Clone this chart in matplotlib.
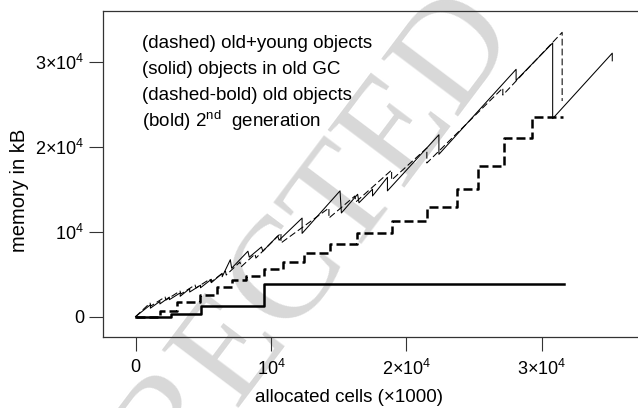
import numpy as np
import matplotlib as mpl
mpl.use('Agg')
import matplotlib.pyplot as plt

mpl.rcParams['font.family'] = ['Liberation Sans', 'DejaVu Sans']
mpl.rcParams['mathtext.fontset'] = 'custom'
mpl.rcParams['mathtext.rm'] = 'Liberation Sans'
mpl.rcParams['mathtext.it'] = 'Liberation Sans:italic'
mpl.rcParams['mathtext.bf'] = 'Liberation Sans:bold'

# 2nd generation (bold, step)
gen2_x = [0, 2600, 4800, 9500, 31600]
gen2_y = [0, 300, 1200, 3800, 3800]

# old objects (dashed-bold, step)
old_x = [0, 1800, 3060, 4760, 6000, 7120, 8150, 9480, 10890, 12440, 14350,
         16350, 18930, 21540, 23700, 25300, 27200, 29240, 31530]
old_y = [0, 670, 1760, 2550, 3530, 4320, 4790, 5580, 6470, 7460, 8520,
         9810, 11290, 12940, 14990, 17760, 20990, 23460, 23460]

# objects in old GC (solid thin)
gc_x = [0, 1100, 1100, 1800, 1800, 2500, 2500, 3300, 3300, 4000, 4000, 4800, 4800,
        5600, 5600, 6400, 6400, 7000, 7100, 8300, 8400, 9300, 9400, 10500, 10600,
        12300, 12300, 15100, 15200, 16400, 16500, 17500, 17500, 18600, 18600,
        22400, 22400, 28100, 28100, 30800, 30800, 35200, 35200]
gc_y = [0, 1400, 1000, 1800, 1500, 2300, 2000, 2800, 2400, 3300, 2900, 3700, 3400,
        4400, 4000, 5100, 4700, 6700, 5700, 7700, 7000, 8200, 7700, 9500, 9000,
        11600, 9800, 14800, 12200, 14400, 13400, 15000, 14200, 16400, 14800,
        21400, 19100, 29100, 27800, 32200, 23300, 31000, 30100]

# old+young objects (dashed thin)
all_x = [0, 1070, 1140, 2180, 2250, 3280, 3360, 4390, 4470, 5500, 5570, 6640, 6700,
         7710, 7790, 8820, 8890, 10740, 10740, 14280, 14280, 16200, 16270,
         18910, 18910, 21510, 21510, 27120, 27120, 31500, 31500]
all_y = [0, 1600, 1260, 2320, 1960, 3020, 2670, 3730, 3380, 4430, 4080, 5370, 4900,
         6430, 5850, 7370, 6900, 9840, 8670, 12780, 11600, 14200, 13500,
         17250, 16080, 19840, 18080, 26900, 26070, 33450, 25370]

legend_lines = ['(dashed) old+young objects',
                '(solid) objects in old GC',
                '(dashed-bold) old objects',
                r'(bold) 2$^{\mathrm{nd}}$  generation']

xticks = [0, 10000, 20000, 30000]
xticklabels = ['0', r'$10^4$', r'$2{\times}10^4$', r'$3{\times}10^4$']
yticks = [0, 10000, 20000, 30000]
yticklabels = ['0', r'$10^4$', r'$2{\times}10^4$', r'$3{\times}10^4$']

fig = plt.figure(figsize=(6.38, 4.08), dpi=100)
ax = fig.add_axes([103 / 638, 1 - 337 / 408, 1 - 103 / 638, 326 / 408])
ax.patch.set_visible(False)

# watermark
fig.text(320 / 638, 1 - 237 / 408, 'RECTED', fontsize=105, color='#d8d8d8',
         family='Liberation Serif', rotation=53, ha='center', va='center',
         zorder=-1)

ax.plot(gen2_x, gen2_y, drawstyle='steps-post', color='black', lw=1.8)
ax.plot(old_x, old_y, drawstyle='steps-post', color='black', lw=1.8,
        dashes=(3.6, 1.6))
ax.plot(gc_x, gc_y, color='black', lw=0.75)
ax.plot(all_x, all_y, color='black', lw=0.75, dashes=(6.5, 3.0))

ax.set_xlim(-2400, 37100)
ax.set_ylim(-2390, 35960)
ax.set_xticks(xticks)
ax.set_xticklabels(xticklabels)
ax.set_yticks(yticks)
ax.set_yticklabels(yticklabels)
ax.tick_params(axis='both', direction='out', length=10, width=0.8,
               color='#333333', labelsize=13)
ax.tick_params(axis='x', pad=6)
ax.tick_params(axis='y', pad=3.5)
for s in ['left', 'bottom', 'top']:
    ax.spines[s].set_color('#333333')
    ax.spines[s].set_linewidth(0.9)
ax.spines['right'].set_visible(False)

for i, t in enumerate(legend_lines):
    fig.text(141.7 / 638, 1 - (43.3 + 26 * i) / 408, t, fontsize=13.5,
             ha='left', va='center')

fig.text(349 / 638, 1 - 398 / 408, 'allocated cells (\u00d71000)', fontsize=13.5,
         ha='center', va='center')
fig.text(20 / 638, 1 - 190 / 408, 'memory in kB', fontsize=14.5, rotation=90,
         ha='center', va='center')

fig.savefig('out.png', dpi=100)
